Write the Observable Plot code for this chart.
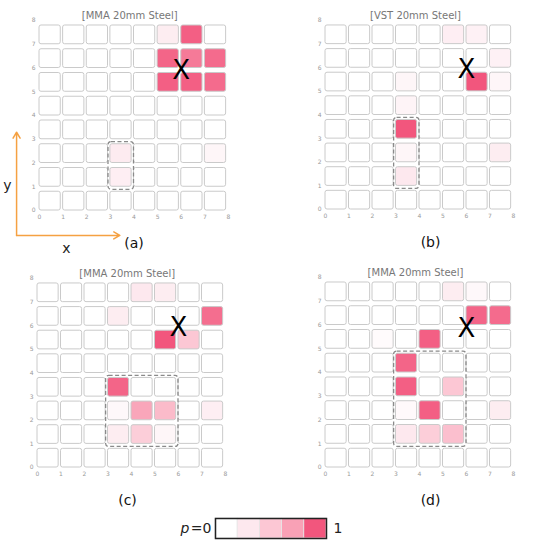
<!DOCTYPE html>
<html><head><meta charset="utf-8">
<script src="https://cdn.jsdelivr.net/npm/d3@7"></script>
<script src="https://cdn.jsdelivr.net/npm/@observablehq/plot@0.6"></script>
<style>
body{margin:0;background:#fff;font-family:"DejaVu Sans",sans-serif}
#root{position:relative;width:533px;height:550px;overflow:hidden}
#root > svg{position:absolute;overflow:visible}
</style></head><body><div id="root"></div>
<script>
// rows listed from y=7 (top) down to y=0
const gridA = [
 [0,0,0,0,0,0.2,0.97,0],
 [0,0,0,0,0,0.95,0.88,0.93],
 [0,0,0,0,0,0.97,0.97,0.93],
 [0,0,0,0,0,0,0,0],
 [0,0,0,0,0,0,0,0],
 [0,0,0,0.22,0,0,0,0.1],
 [0,0,0,0.18,0,0,0,0],
 [0,0,0,0,0,0,0,0]];
const gridB = [
 [0,0,0,0,0,0.18,0.15,0],
 [0,0,0,0,0,0,0,0.15],
 [0,0,0,0.1,0,0,1.0,0.1],
 [0,0,0,0.12,0,0,0,0],
 [0,0,0,1.0,0,0,0,0],
 [0,0,0,0.1,0,0,0,0.2],
 [0,0,0,0.25,0,0,0,0],
 [0,0,0,0,0,0,0,0]];
const gridC = [
 [0,0,0,0,0.25,0.2,0,0],
 [0,0,0,0.2,0,0,0,0.92],
 [0,0,0,0,0,1.0,0.5,0],
 [0,0,0,0,0,0,0,0],
 [0,0,0,0.95,0,0,0,0],
 [0,0,0,0.08,0.72,0.58,0,0.18],
 [0,0,0,0.2,0.45,0.1,0,0],
 [0,0,0,0,0,0,0,0]];
const gridD = [
 [0,0,0,0,0,0.2,0.08,0],
 [0,0,0,0,0,0,0.95,0.93],
 [0,0,0.04,0,0.97,0,0,0],
 [0,0,0,0.95,0,0,0,0],
 [0,0,0,0.97,0,0.5,0,0],
 [0,0,0,0.06,0.97,0,0,0.2],
 [0,0,0,0.25,0.45,0.55,0,0],
 [0,0,0,0,0,0,0,0]];

const titles = ["[MMA 20mm Steel]", "[VST 20mm Steel]", "[MMA 20mm Steel]", "[MMA 20mm Steel]"];
const panelLabels = ["(a)", "(b)", "(c)", "(d)"];
// dashed boxes: column range and row range
const boxes = [
 {c0: 3, c1: 3, r0: 1, r1: 2},
 {c0: 3, c1: 3, r0: 1, r1: 3},
 {c0: 3, c1: 5, r0: 1, r1: 3},
 {c0: 3, c1: 5, r0: 1, r1: 4}];
const crosses = [{x: 6, y: 5.9}, {x: 6, y: 5.9}, {x: 6, y: 5.9}, {x: 6, y: 5.85}];
const axisTicks = [0,1,2,3,4,5,6,7,8];

const legendLevels = [0, 0.25, 0.5, 0.75, 1];
const legendColors = ["#ffffff", "#fde8ee", "#fcc7d4", "#f9a1b6", "#f2567d"];

// orange coordinate arrows (panel a, data units)
const coordArrows = [
 {x1: -0.97, y1: -1.05, x2: -0.97, y2: 3.3},
 {x1: -0.97, y1: -1.05, x2: 3.4, y2: -1.05}];
const coordLabels = [{x: -1.36, y: 1.05, t: "y"}, {x: 1.14, y: -1.6, t: "x"}];

const layout = [
 {left: 0, top: 0, w: 266, ml: 39, mr: 38, mt: 20, mb: 50, tx: 3.82, lx: 4.0},
 {left: 266, top: 0, w: 267, ml: 59, mr: 20, mt: 20, mb: 51, tx: 3.83, lx: 4.47},
 {left: 0, top: 260, w: 266, ml: 37, mr: 41, mt: 18, mb: 53, tx: 3.82, lx: 3.83},
 {left: 266, top: 260, w: 267, ml: 59, mr: 20, mt: 17, mb: 53, tx: 3.83, lx: 4.47}];

const colorScale = {type: "linear", domain: legendLevels, range: legendColors, interpolate: "rgb"};
const root = document.getElementById("root");

[gridA, gridB, gridC, gridD].forEach((grid, k) => {
  const L = layout[k];
  const cells = [];
  grid.forEach((row, i) => row.forEach((v, j) => cells.push({x: j, y: 7 - i, v})));
  const marks = [
    Plot.axisX({ticks: axisTicks, tickSize: 0, tickPadding: 4, fontSize: 6, fill: "#999", tickFormat: d => d, label: null}),
    Plot.axisY({ticks: axisTicks, tickSize: 0, tickPadding: 4, fontSize: 6, fill: "#999", tickFormat: d => d, label: null}),
    Plot.rect(cells, {x1: "x", x2: d => d.x + 0.9, y1: "y", y2: d => d.y + 0.79, fill: "v", stroke: "#cacaca", strokeWidth: 1, rx: 2}),
    Plot.rect([boxes[k]], {x1: d => d.c0 - 0.08, x2: d => d.c1 + 1.0, y1: d => d.r0 - 0.13, y2: d => d.r1 + 0.88,
      fill: "none", stroke: "#8a8a8a", strokeWidth: 1.3, strokeDasharray: "4,2.5", rx: 3}),
    Plot.text([crosses[k]], {x: "x", y: "y", text: () => "X", fontSize: 26, fill: "#000", fontFamily: "DejaVu Sans"}),
    Plot.text([titles[k]], {x: () => L.tx, y: () => 8, text: d => d, dy: -5, fontSize: 10, fill: "#777"}),
    Plot.text([panelLabels[k]], {x: () => L.lx, y: () => 0, text: d => d, dy: 33, fontSize: 14, fill: "#111"})
  ];
  if (k === 0) {
    marks.push(Plot.arrow(coordArrows, {x1: "x1", y1: "y1", x2: "x2", y2: "y2", stroke: "#f5a142", strokeWidth: 1.5, headLength: 7}));
    marks.push(Plot.text(coordLabels, {x: "x", y: "y", text: "t", fontSize: 14, fill: "#222"}));
  }
  const svg = Plot.plot({
    width: L.w, height: 260,
    marginLeft: L.ml, marginRight: L.mr, marginTop: L.mt, marginBottom: L.mb,
    x: {domain: [0, 8], axis: null},
    y: {domain: [0, 8], axis: null},
    color: colorScale,
    style: {fontFamily: "DejaVu Sans", background: "transparent", overflow: "visible"},
    marks
  });
  svg.style.left = L.left + "px";
  svg.style.top = L.top + "px";
  root.appendChild(svg);
});

// legend
const legendCells = legendLevels.map((v, i) => ({i, v}));
const legend = Plot.plot({
  width: 533, height: 40,
  marginLeft: 215, marginRight: 207, marginTop: 10, marginBottom: 10,
  x: {domain: [0, 5], axis: null},
  y: {domain: [0, 1], axis: null},
  color: colorScale,
  style: {fontFamily: "DejaVu Sans", background: "transparent", overflow: "visible"},
  marks: [
    Plot.rect(legendCells, {x1: "i", x2: d => d.i + 1, y1: () => 0, y2: () => 1, fill: "v", stroke: "#e6e6e6", strokeWidth: 0.8}),
    Plot.frame({stroke: "#222", strokeWidth: 1.5}),
    Plot.text(["=0"], {x: () => 0, y: () => 0.5, text: d => d, dx: -4, textAnchor: "end", fontSize: 14, fill: "#222"}),
    Plot.text(["p"], {x: () => 0, y: () => 0.5, text: d => d, dx: -26, textAnchor: "end", fontSize: 14, fontStyle: "italic", fill: "#222"}),
    Plot.text(["1"], {x: () => 5, y: () => 0.5, text: d => d, dx: 7, textAnchor: "start", fontSize: 14, fill: "#222"})
  ]
});
legend.style.left = "0px";
legend.style.top = "508px";
root.appendChild(legend);
</script>
</body></html>
